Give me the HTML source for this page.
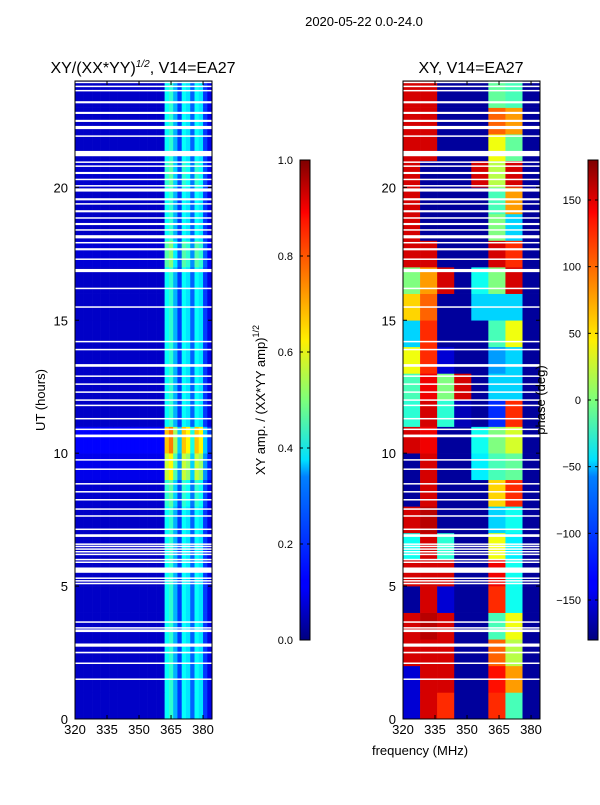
<!DOCTYPE html>
<html><head><meta charset="utf-8"><style>
body{margin:0;background:#fff;font-family:"Liberation Sans","DejaVu Sans",sans-serif;}
svg text{font-family:"Liberation Sans","DejaVu Sans",sans-serif;fill:#000;}
</style></head><body>
<svg id="fig" width="600" height="800" xmlns="http://www.w3.org/2000/svg">
<defs>
<linearGradient id="jet" x1="0" y1="1" x2="0" y2="0">
<stop offset="0" stop-color="#00007f"/><stop offset="0.11" stop-color="#0000ff"/><stop offset="0.125" stop-color="#0000ff"/>
<stop offset="0.34" stop-color="#0080ff"/><stop offset="0.375" stop-color="#00e0ff"/><stop offset="0.5" stop-color="#7dff7a"/>
<stop offset="0.625" stop-color="#ffef00"/><stop offset="0.66" stop-color="#ffd000"/><stop offset="0.875" stop-color="#ff1400"/>
<stop offset="0.89" stop-color="#ff0000"/><stop offset="1" stop-color="#7f0000"/>
</linearGradient>
</defs>
<text x="364" y="26" font-size="13" text-anchor="middle">2020-05-22 0.0-24.0</text>
<text x="143" y="73" font-size="16" text-anchor="middle">XY/(XX*YY)<tspan font-size="10" dy="-6" font-style="italic">1/2</tspan><tspan dy="6">, V14=EA27</tspan></text>
<text x="471" y="73" font-size="16" text-anchor="middle">XY, V14=EA27</text>
<text transform="translate(45,400) rotate(-90)" font-size="13" text-anchor="middle">UT (hours)</text>
<text x="420" y="755" font-size="13" text-anchor="middle">frequency (MHz)</text>
<g id="left"></g>
<g id="right"></g>
<g id="cb1"></g>
<g id="cb2"></g>
<text transform="translate(265,400) rotate(-90)" font-size="13" text-anchor="middle">XY amp. / (XX*YY amp)<tspan font-size="9" dy="-6">1/2</tspan></text>
<text transform="translate(545,400) rotate(-90)" font-size="13" text-anchor="middle">phase (deg)</text>
</svg>
<script>
// ---- data ----
const ampFreqBins = [320,322,324,326,328,330,332,334,336,338,340,342,344,346,348,350,352,354,356,358,360,362,364,366,368,370,372,374,376,378,380,382];
const ampProfile = [0.07,0.07,0.07,0.07,0.07,0.07,0.07,0.07,0.07,0.07,0.07,0.07,0.07,0.07,0.07,0.07,0.07,0.07,0.07,0.07,0.07,0.38,0.42,0.3,0.18,0.38,0.35,0.22,0.38,0.35,0.18,0.1];
const hours = [0,1,2,3,4,5,6,7,8,9,10,11,12,13,14,15,16,17,18,19,20,21,22,23];
const ampTimeScale = [1,1,1,1,1,1,1,1,1.1,1.5,1.8,1,1,1,1,1,1,1.2,1,1,1.1,1,1,1];
const phaseFreqBins = [320,328,336,344,352,360,368,376];
const phaseValues = [
[-150,150,120,-170,-170,120,-20,-170],
[-150,150,150,-170,-170,130,80,-170],
[150,150,150,-170,-170,100,20,-170],
[150,160,150,-170,-170,-20,40,-170],
[-170,150,-150,-170,-170,120,-40,-170],
[150,150,150,-170,-170,140,-40,-170],
[-40,150,-30,-170,-170,40,-50,-170],
[150,160,-170,-170,-170,-60,-40,-170],
[-170,150,-170,-170,-170,60,120,-170],
[-170,150,-170,-170,-50,-20,-10,-170],
[150,140,-170,-170,-40,0,30,-170],
[-30,150,-30,-160,-170,-120,120,-170],
[-20,140,0,150,-170,-60,-60,-170],
[40,120,-150,-170,-170,-80,-60,-170],
[-60,120,-170,-170,-170,-20,40,-170],
[60,100,-170,-170,-60,-60,-60,-170],
[0,80,150,-170,-40,0,150,-170],
[150,150,-170,-170,-170,150,120,-170],
[150,-170,-170,-170,-170,0,-60,-170],
[150,-170,-170,-170,-170,-20,80,-170],
[150,-170,-170,-170,150,20,150,-170],
[150,150,-170,-170,-170,40,-10,-170],
[150,150,-170,-170,-170,100,80,-170],
[150,150,-170,-170,-170,-10,-20,-170]];
const flagTimes = [23.95,23.8,23.64,23.2,22.8,22.5,22.25,21.93,21.27,20.95,20.8,20.54,20.3,20.06,19.9,19.55,19.38,19.1,18.85,18.62,18.4,18.14,17.92,17.67,17.3,16.87,16.2,15.5,14.2,13.9,13.3,12.9,12.6,12.3,12.0,11.8,11.3,10.9,10.65,9.75,9.4,8.85,8.55,8.25,7.9,7.64,7.14,6.9,6.58,6.5,6.4,6.3,6.2,6.0,5.9,5.6,5.3,5.2,5.1,3.65,3.43,3.32,2.78,2.5,2.1,1.5];
const flagWidths = [0.05,0.05,0.05,0.08,0.08,0.08,0.12,0.05,0.2,0.05,0.05,0.08,0.05,0.05,0.12,0.08,0.05,0.08,0.05,0.08,0.05,0.12,0.05,0.08,0.05,0.12,0.05,0.05,0.05,0.05,0.1,0.05,0.05,0.05,0.05,0.05,0.05,0.05,0.1,0.05,0.05,0.05,0.05,0.05,0.05,0.05,0.05,0.1,0.05,0.04,0.04,0.04,0.04,0.05,0.05,0.2,0.05,0.05,0.05,0.05,0.05,0.1,0.12,0.06,0.05,0.05];
const xTicks = [320,335,350,365,380];
const yTicks = [0,5,10,15,20];
const ampTicks = [0,0.2,0.4,0.6,0.8,1.0];
const phaseTicks = [-150,-100,-50,0,50,100,150];

// ---- helpers ----
const NS="http://www.w3.org/2000/svg";
function el(tag,attrs,parent){const e=document.createElementNS(NS,tag);for(const k in attrs)e.setAttribute(k,attrs[k]);parent.appendChild(e);return e;}
function clip(v){return Math.max(0,Math.min(1,v));}
function jet(t){t=clip(t);const r=clip(1.5-Math.abs(4*t-3)),g=clip(1.5-Math.abs(4*t-2)),b=clip(1.5-Math.abs(4*t-1));return `rgb(${Math.round(r*255)},${Math.round(g*255)},${Math.round(b*255)})`;}
const Y0=719,Y1=81,F0=320,F1=384.2;
const yScale=h=>Y0+(Y1-Y0)*h/24;
function mkX(x0,x1){return f=>x0+(x1-x0)*(f-F0)/(F1-F0);}

function panel(g,x0,x1,drawCells){
  const xs=mkX(x0,x1);
  drawCells(xs);
  flagTimes.forEach((t,i)=>{
    const r=el('rect',{x:x0,y:yScale(t+flagWidths[i]/2),width:x1-x0,height:Math.max(1.5,yScale(t-flagWidths[i]/2)-yScale(t+flagWidths[i]/2)),fill:'#fff'},g);
    
    
  });
  const fr=el('rect',{x:x0,y:Y1,width:x1-x0,height:Y0-Y1,fill:'none',stroke:'#000','stroke-width':1},g);
  
  
  xTicks.forEach(v=>{
    const x=xs(v);
    el('line',{x1:x,x2:x,y1:Y0,y2:Y0-4,stroke:'#000'},g);
    el('line',{x1:x,x2:x,y1:Y1,y2:Y1+4,stroke:'#000'},g);
    const t=el('text',{x:x,y:Y0+15,'font-size':13,'text-anchor':'middle'},g);t.textContent=v;
    
    
  });
  yTicks.forEach(v=>{
    const y=yScale(v);
    el('line',{x1:x0,x2:x0+4,y1:y,y2:y,stroke:'#000'},g);
    el('line',{x1:x1,x2:x1-4,y1:y,y2:y,stroke:'#000'},g);
    const t=el('text',{x:x0-7,y:y+5,'font-size':13,'text-anchor':'end'},g);t.textContent=v;
    
    
  });
}
const L=document.getElementById('left'),R=document.getElementById('right');
panel(L,75,212,xs=>{
  hours.forEach((h,j)=>ampFreqBins.forEach((f,i)=>{
    const x=xs(f),x2=xs(f+2);
    const c=el('rect',{x:x,y:yScale(h+1),width:x2-x+0.3,height:yScale(h)-yScale(h+1)+0.3,fill:jet(ampProfile[i]*ampTimeScale[j])},L);
    
    
  }));
});
panel(R,403,540,xs=>{
  hours.forEach((h,j)=>phaseFreqBins.forEach((f,i)=>{
    const x=xs(f),x2=Math.min(xs(f+8),540);
    const c=el('rect',{x:x,y:yScale(h+1),width:x2-x+0.3,height:yScale(h)-yScale(h+1)+0.3,fill:jet((phaseValues[j][i]+180)/360)},R);
    
    
  }));
});
function colorbar(g,x0,lo,hi,ticks){
  const w=10,top=160,bot=640;
  const s=v=>bot+(top-bot)*(v-lo)/(hi-lo);
  el('rect',{x:x0,y:top,width:w,height:bot-top,fill:'url(#jet)',stroke:'#000','stroke-width':1},g);
  ticks.forEach(v=>{
    const y=s(v);
    el('line',{x1:x0,x2:x0+3,y1:y,y2:y,stroke:'#000'},g);
    el('line',{x1:x0+w,x2:x0+w-3,y1:y,y2:y,stroke:'#000'},g);
    const t=el('text',{x:x0-7,y:y+4,'font-size':11,'text-anchor':'end'},g);
    t.textContent=(lo===0? v.toFixed(1): (v<0?'\u2212'+(-v):v));
    
    
  });
}
colorbar(document.getElementById('cb1'),300,0,1,ampTicks);
colorbar(document.getElementById('cb2'),588,-180,180,phaseTicks);
</script>
</body></html>
